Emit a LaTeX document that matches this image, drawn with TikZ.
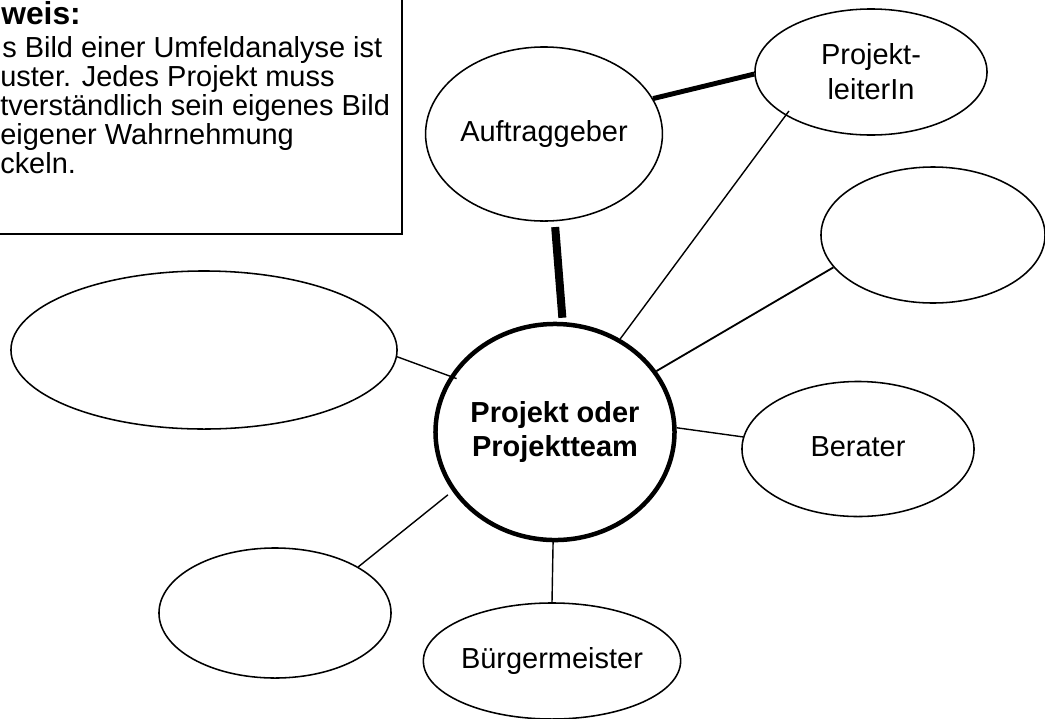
\documentclass[tikz,border=0pt]{standalone}
\usepackage{fontspec}
\setmainfont{Liberation Sans}
\usetikzlibrary{shapes.geometric}

\begin{document}
\begin{tikzpicture}[
  x=0.025cm,
  y=-0.025cm,
  every node/.style={font=\fontsize{20.6}{24.8}\selectfont},
  bubble/.style={draw, ellipse, line width=1.1pt, inner sep=0pt, align=center},
  core/.style={bubble, line width=3.2pt, font=\fontsize{20.6}{24.8}\selectfont\bfseries},
  boxtext/.style={anchor=base west, inner sep=0pt, font=\fontsize{20.6}{20.8}\selectfont},
  thinlink/.style={line width=1pt},
  midlink/.style={line width=3.5pt},
  heavylink/.style={line width=5.7pt}
]
  \useasboundingbox (0,0) rectangle (1045,718);
  \clip (0,0) rectangle (1045,718);

  \draw[line width=1pt] (-30,-30) rectangle (402,234);
  \node[boxtext, font=\fontsize{22.6}{24}\selectfont\bfseries] (hw) at (1,24) {weis:};
  \node[boxtext] (hw1) at (2,57) {s Bild einer Umfeldanalyse ist};
  \node[boxtext] (hw2) at (0,86) {uster. Jedes Projekt muss};
  \node[boxtext] (hw3) at (0,115) {tverständlich sein eigenes Bild};
  \node[boxtext] (hw4) at (0,144) {eigener Wahrnehmung};
  \node[boxtext] (hw5) at (0,173) {ckeln.};

  \node[bubble, minimum width=5.8cm, minimum height=4.35cm] (auf) at (544,134) {\raisebox{4pt}{Auftraggeber}};
  \node[bubble, minimum width=5.8cm, minimum height=3.15cm] (pl) at (871,72) {Projekt-\\leiterIn};
  \node[bubble, minimum width=5.6cm, minimum height=3.4cm] (re) at (933,235) {};
  \node[bubble, minimum width=9.65cm, minimum height=3.95cm] (bl) at (204,350) {};
  \node[core, minimum width=5.85cm, minimum height=5.4cm] (ctr) at (555,432) {Projekt oder\\Projektteam};
  \node[bubble, minimum width=5.8cm, minimum height=3.375cm] (ber) at (858,449) {\raisebox{3pt}{Berater}};
  \node[bubble, minimum width=5.8cm, minimum height=3.25cm] (lo) at (275,613) {};
  \node[bubble, minimum width=5.775cm, minimum height=2.9cm] (bm) at (552,661) {\raisebox{-5pt}{Bürgermeister}};

  \draw[heavylink, shorten <=4pt, shorten >=3pt] (auf.-83) -- (ctr.86);
  \draw[midlink] (auf.18) -- (pl.181);
  \draw[thinlink, shorten >=-4pt] (ctr.55) -- (pl.207);
  \draw[thinlink, line width=1.3pt] (ctr.31) -- (re.198);
  \draw[thinlink] (ctr.2) -- (ber.174);
  \draw[thinlink, shorten >=-5pt] (bl.-2) -- (ctr.152);
  \draw[thinlink, shorten >=4pt] (lo.29) -- (ctr.210);
  \draw[thinlink, shorten <=-3pt] (ctr.-91) -- (bm.90);
\end{tikzpicture}
\end{document}
